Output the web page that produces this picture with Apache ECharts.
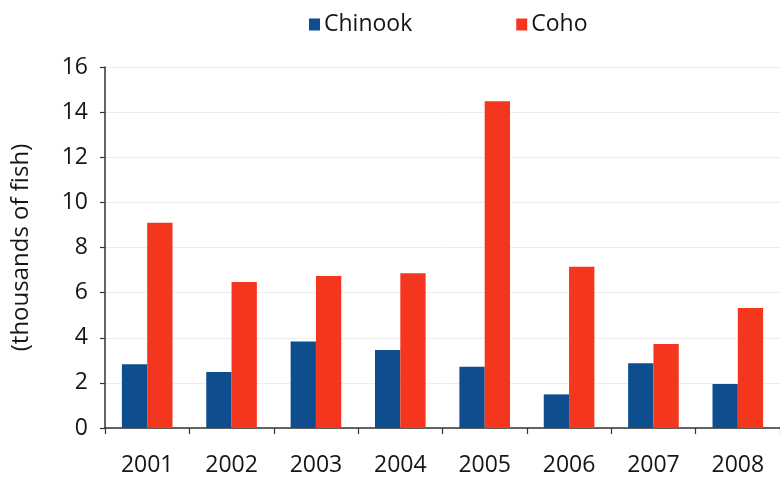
<!DOCTYPE html>
<html>
<head>
<meta charset="utf-8">
<script src="https://cdn.jsdelivr.net/npm/echarts@6/dist/echarts.min.js"></script>
<style>
  html, body { margin: 0; padding: 0; background: #fff; }
  #chart { width: 780px; height: 481px; }
</style>
</head>
<body>
<div id="chart"></div>
<script>
// Annual salmon counts, thousands of fish
const years = ['2001', '2002', '2003', '2004', '2005', '2006', '2007', '2008'];
const chinook = [2.82, 2.48, 3.83, 3.46, 2.72, 1.49, 2.87, 1.95];
const coho = [9.10, 6.47, 6.74, 6.86, 14.48, 7.15, 3.72, 5.32];
const yTicks = [0, 2, 4, 6, 8, 10, 12, 14, 16];

const FONT = '"Open Sans", "Noto Sans", sans-serif';
const INK = '#161616';

const chart = echarts.init(document.getElementById('chart'), null, { renderer: 'canvas' });
chart.setOption({
  animation: false,
  backgroundColor: '#ffffff',
  textStyle: { fontFamily: FONT },
  legend: {
    left: 304,
    top: 8,
    itemWidth: 11,
    itemHeight: 12,
    itemGap: 104,
    icon: 'rect',
    textStyle: { fontFamily: FONT, fontSize: 23, color: INK, padding: [0, 0, 0, -1] },
    data: ['Chinook', 'Coho']
  },
  grid: { left: 105, right: -12, top: 67, bottom: 53, containLabel: false },
  xAxis: {
    type: 'category',
    data: years,
    axisLine: { lineStyle: { color: '#333', width: 1.5 } },
    axisTick: { show: true, length: 6, lineStyle: { color: '#333', width: 1.2 } },
    axisLabel: { fontFamily: FONT, fontSize: 23, color: INK, margin: 26 }
  },
  yAxis: {
    type: 'value',
    min: yTicks[0],
    max: yTicks[yTicks.length - 1],
    interval: 2,
    name: '(thousands of fish)',
    nameLocation: 'middle',
    nameGap: 72,
    nameRotate: 90,
    nameTextStyle: { fontFamily: FONT, fontSize: 24, color: INK, fontWeight: 500 },
    axisLine: { show: true, lineStyle: { color: '#333', width: 1.5 } },
    axisTick: { show: true, length: 5, lineStyle: { color: '#333', width: 1.2 } },
    axisLabel: { fontFamily: FONT, fontSize: 23, color: INK, margin: 17 },
    splitLine: { show: true, lineStyle: { color: '#ededed', width: 1 } }
  },
  series: [
    {
      name: 'Chinook',
      type: 'bar',
      data: chinook,
      itemStyle: { color: '#0e4d8e' },
      barGap: '0%',
      barCategoryGap: '40%'
    },
    {
      name: 'Coho',
      type: 'bar',
      data: coho,
      itemStyle: { color: '#f5361f' },
      barGap: '0%',
      barCategoryGap: '40%'
    }
  ]
});
</script>
</body>
</html>
